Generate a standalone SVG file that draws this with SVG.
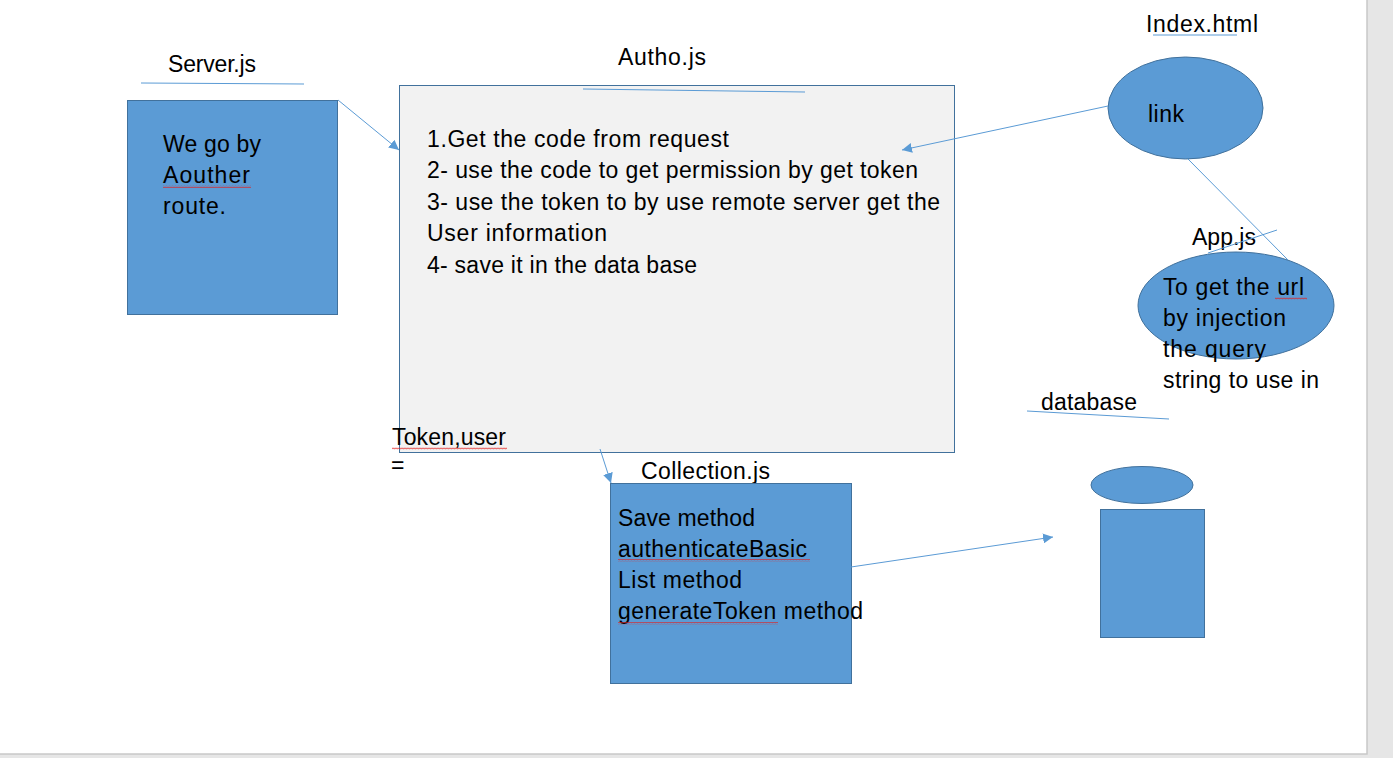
<svg xmlns="http://www.w3.org/2000/svg" width="1393" height="758" viewBox="0 0 1393 758">
<defs>
<style>
.t{font-family:"Liberation Sans",Arial,sans-serif;font-size:23px;fill:#000}
.box{fill:#5b9bd5;stroke:#41719c;stroke-width:1}
.ln{stroke:#5b9bd5;stroke-width:1;fill:none}
.sq{fill:url(#squig)}
</style>
<marker id="arr" viewBox="0 0 10 10" refX="10" refY="5" markerWidth="10" markerHeight="10" markerUnits="userSpaceOnUse" orient="auto">
<path d="M0,0 L10,5 L0,10 Z" fill="#5b9bd5"/>
</marker>
<pattern id="squig" x="0" y="0" width="3" height="3" patternUnits="userSpaceOnUse">
<path d="M0,2.2 L0.75,0.8 L1.5,2.2 L2.25,0.8 L3,2.2" fill="none" stroke="#e02020" stroke-width="0.6"/>
</pattern>
</defs>
<rect x="0" y="0" width="1393" height="758" fill="#e6e6e6"/>
<rect x="-1" y="-1" width="1368" height="755" fill="#ffffff" stroke="#c8c8c8" stroke-width="1.5"/>

<g id="server">
<text class="t" x="168" y="72" textLength="88">Server.js</text>
<line class="ln" x1="141" y1="83" x2="304" y2="84"/>
<rect class="box" x="127.5" y="100.5" width="210" height="214"/>
<text class="t" x="163" y="152" textLength="98">We go by</text>
<text class="t" x="163" y="183" textLength="87">Aouther</text>
<rect class="sq" x="163" y="185" width="88" height="3"/>
<text class="t" x="163" y="214" textLength="63">route.</text>
</g>

<g id="autho">
<text class="t" x="618" y="65" textLength="88">Autho.js</text>
<rect x="399.5" y="85.5" width="555" height="367" fill="#f2f2f2" stroke="#41719c" stroke-width="1"/>
<line class="ln" x1="583" y1="89" x2="805" y2="92"/>
<text class="t" x="427" y="147" textLength="302">1.Get the code from request</text>
<text class="t" x="427" y="178" textLength="491">2- use the code to get permission by get token</text>
<text class="t" x="427" y="210" textLength="513">3- use the token to by use remote server get the</text>
<text class="t" x="427" y="241" textLength="180">User information</text>
<text class="t" x="427" y="273" textLength="270">4- save it in the data base</text>
</g>

<g id="token-label">
<text class="t" x="392" y="445" textLength="114">Token,user</text>
<rect class="sq" x="392" y="447" width="115" height="3"/>
<text class="t" x="391" y="473">=</text>
</g>

<g id="index">
<text class="t" x="1146" y="32" textLength="112">Index.html</text>
<line class="ln" x1="1153" y1="35" x2="1237" y2="35"/>
<ellipse class="box" cx="1185.5" cy="108" rx="77.5" ry="51"/>
<text class="t" x="1148" y="122" textLength="36">link</text>
</g>

<g id="app">
<text class="t" x="1192" y="245" textLength="64">App.js</text>
<line class="ln" x1="1208" y1="253" x2="1277" y2="230"/>
<ellipse class="box" cx="1236" cy="305.5" rx="98" ry="53.5"/>
<text class="t" x="1163" y="295" textLength="141">To get the url</text>
<rect class="sq" x="1275" y="297" width="32" height="3"/>
<text class="t" x="1163" y="326" textLength="123">by injection</text>
<text class="t" x="1163" y="357" textLength="103">the query</text>
<text class="t" x="1163" y="388" textLength="156">string to use in</text>
</g>

<g id="database">
<text class="t" x="1041" y="410" textLength="96">database</text>
<line class="ln" x1="1027" y1="411" x2="1169" y2="419"/>
<ellipse class="box" cx="1142" cy="485" rx="51" ry="18.5"/>
<rect class="box" x="1100.5" y="509.5" width="104" height="128"/>
</g>

<g id="collection">
<text class="t" x="641" y="479" textLength="129">Collection.js</text>
<rect class="box" x="610.5" y="483.5" width="241" height="200"/>
<text class="t" x="618" y="526" textLength="137">Save method</text>
<text class="t" x="618" y="557" textLength="189">authenticateBasic</text>
<rect class="sq" x="618" y="559" width="192" height="3"/>
<text class="t" x="618" y="588" textLength="124">List method</text>
<text class="t" x="618" y="619" textLength="245">generateToken method</text>
<rect class="sq" x="618" y="622" width="160" height="3"/>
</g>

<g id="connectors">
<line class="ln" x1="338" y1="100" x2="399" y2="150" marker-end="url(#arr)"/>
<line class="ln" x1="1108" y1="106" x2="902" y2="150" marker-end="url(#arr)"/>
<line class="ln" x1="1188" y1="159" x2="1288" y2="260"/>
<line class="ln" x1="600" y1="449" x2="611" y2="483" marker-end="url(#arr)"/>
<line class="ln" x1="851" y1="567" x2="1053" y2="537" marker-end="url(#arr)"/>
</g>
</svg>
